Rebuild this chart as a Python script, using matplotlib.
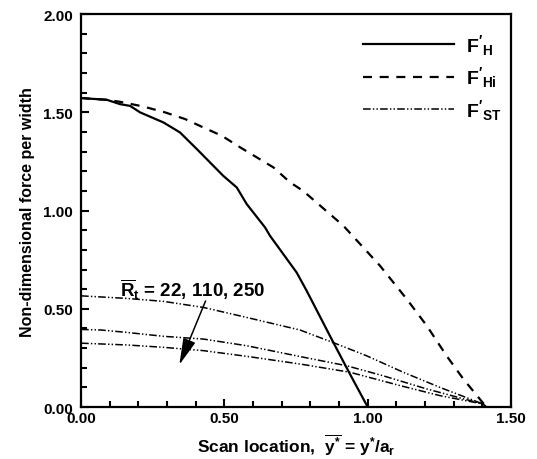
import numpy as np
import matplotlib
matplotlib.use('Agg')
from matplotlib import pyplot as plt
from matplotlib.ticker import MultipleLocator, FormatStrFormatter

plt.rcParams['font.family'] = ['Liberation Sans', 'DejaVu Sans']
plt.rcParams['font.weight'] = 'bold'
plt.rcParams['mathtext.fontset'] = 'custom'
plt.rcParams['mathtext.rm'] = 'Liberation Sans:bold'
plt.rcParams['mathtext.it'] = 'Liberation Sans:bold'
plt.rcParams['mathtext.bf'] = 'Liberation Sans:bold'
plt.rcParams['lines.scale_dashes'] = False

# F'_H (solid)
x_h = [0.0, 0.09, 0.136, 0.171, 0.206, 0.287, 0.345, 0.404, 0.496, 0.543, 0.578,
       0.642, 0.659, 0.752, 0.787, 0.880, 0.938, 1.0]
y_h = [1.573, 1.564, 1.542, 1.533, 1.50, 1.449, 1.398, 1.313, 1.177, 1.118, 1.033,
       0.914, 0.872, 0.685, 0.592, 0.329, 0.168, 0.0]

# F'_Hi (dashed)
x_hi = [0.0, 0.09, 0.136, 0.217, 0.293, 0.363, 0.427, 0.491, 0.555, 0.613, 0.671,
        0.729, 0.775, 0.915, 1.043, 1.136, 1.206, 1.275, 1.334, 1.414]
y_hi = [1.573, 1.564, 1.554, 1.530, 1.50, 1.466, 1.423, 1.381, 1.322, 1.271, 1.220,
        1.144, 1.10, 0.923, 0.719, 0.550, 0.414, 0.261, 0.142, 0.0]

# F'_ST for R_t = 22, 110, 250 (dash-dot-dot)
x_st1 = [0.0, 0.159, 0.287, 0.427, 0.578, 0.764, 0.892, 0.996, 1.124, 1.252, 1.403, 1.414]
y_st1 = [0.566, 0.553, 0.538, 0.507, 0.456, 0.392, 0.321, 0.261, 0.177, 0.100, 0.015, 0.0]

x_st2 = [0.0, 0.07, 0.159, 0.287, 0.427, 0.578, 0.764, 0.927, 1.054, 1.206, 1.403, 1.414]
y_st2 = [0.395, 0.392, 0.380, 0.360, 0.346, 0.312, 0.257, 0.210, 0.159, 0.092, 0.015, 0.0]

x_st3 = [0.0, 0.159, 0.287, 0.427, 0.578, 0.764, 0.938, 1.113, 1.252, 1.403, 1.414]
y_st3 = [0.325, 0.316, 0.304, 0.287, 0.258, 0.219, 0.177, 0.109, 0.058, 0.015, 0.0]

fig = plt.figure(figsize=(5.37, 4.60), dpi=100)
ax = fig.add_axes([0.151, 0.113, 0.8006, 0.854])

dashdotdot = (0, (5.5, 1.6, 1.0, 1.6, 1.0, 1.6))

ax.plot(x_h, y_h, color='black', lw=1.6, label=r"$\mathrm{F'_{H}}$")
ax.plot(x_hi, y_hi, color='black', lw=1.6, linestyle=(0, (6.5, 5.5)), label=r"$\mathrm{F'_{Hi}}$")
ax.plot(x_st1, y_st1, color='black', lw=1.1, linestyle=dashdotdot, label=r"$\mathrm{F'_{ST}}$")
ax.plot(x_st2, y_st2, color='black', lw=1.1, linestyle=dashdotdot)
ax.plot(x_st3, y_st3, color='black', lw=1.1, linestyle=dashdotdot)

ax.annotate('', xy=(0.339, 0.202), xytext=(0.438, 0.553),
            arrowprops=dict(arrowstyle='-|>,head_length=0.9,head_width=0.22',
                            color='black', lw=1.1, mutation_scale=18))
ax.text(0.135, 0.605, r"$\overline{\mathrm{R}}_{\mathrm{t}}$ = 22, 110, 250",
        fontsize=13.5, fontweight='bold', ha='left', va='center')

ax.set_xlim(0, 1.5)
ax.set_ylim(0, 2.0)
ax.xaxis.set_major_locator(MultipleLocator(0.5))
ax.xaxis.set_minor_locator(MultipleLocator(0.1))
ax.yaxis.set_major_locator(MultipleLocator(0.5))
ax.yaxis.set_minor_locator(MultipleLocator(0.1))
ax.xaxis.set_major_formatter(FormatStrFormatter('%.2f'))
ax.yaxis.set_major_formatter(FormatStrFormatter('%.2f'))
ax.tick_params(which='both', direction='in', top=False, right=False, width=1.5)
ax.tick_params(which='major', length=6)
ax.tick_params(which='minor', length=4.5)
ax.tick_params(axis='x', pad=3, labelsize=11)
ax.tick_params(axis='y', pad=6, labelsize=11)
for lab in ax.get_xticklabels() + ax.get_yticklabels():
    lab.set_fontweight('bold')
for s in ax.spines.values():
    s.set_linewidth(1.6)

ax.set_xlabel(r"Scan location,  $\overline{\mathrm{y}^{*}}$ = y$^{*}$/a$_{\mathrm{r}}$",
              fontsize=12.5, fontweight='bold', labelpad=4)
ax.set_ylabel('Non-dimensional force per width', fontsize=11.5, fontweight='bold', labelpad=6)

leg = ax.legend(loc='upper right', bbox_to_anchor=(1.0, 0.98), frameon=False,
                handlelength=4.7, fontsize=14, labelspacing=0.4,
                handletextpad=0.6, borderaxespad=0.1)

plt.savefig('out.png', dpi=100)
plt.close()
